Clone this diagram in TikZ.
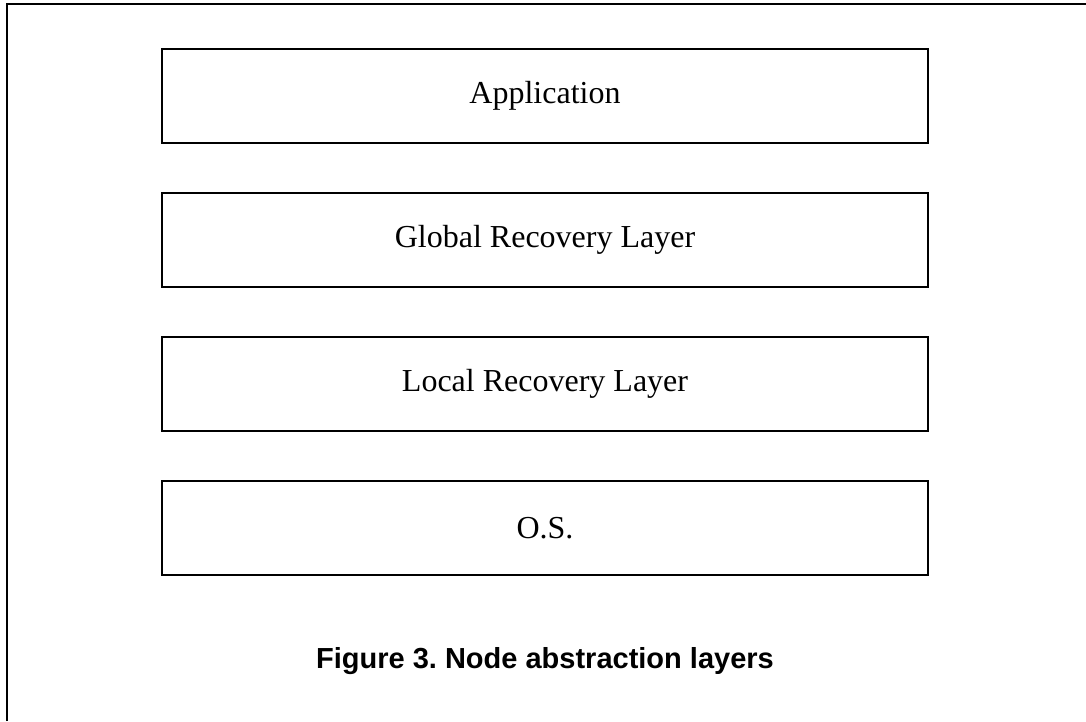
\documentclass[tikz,border=0pt]{standalone}
\usepackage{fontspec}
\setmainfont{Liberation Serif}
\newfontfamily\capfont{Liberation Sans}
\frenchspacing
\begin{document}
\begin{tikzpicture}[x=1pt,y=-1pt,
  layerbox/.style={draw, line width=2.2pt, minimum width=766pt, minimum height=94pt, inner sep=0pt, font=\fontsize{32}{38}\selectfont},
  frameline/.style={line width=2.2pt, line join=miter},
  captext/.style={anchor=base, inner sep=0pt, font=\capfont\bfseries\fontsize{29}{34}\selectfont}]
\useasboundingbox (0,0) rectangle (1086,721);
\coordinate (fb) at (7,721);
\coordinate (fc) at (7,4);
\coordinate (fr) at (1086,4);
\draw[frameline] (fb) -- (fc) -- (fr);
\node[layerbox] (app) at (545,96) {Application};
\node[layerbox] (grl) at (545,240) {Global Recovery Layer};
\node[layerbox] (lrl) at (545,384) {Local Recovery Layer};
\node[layerbox] (os) at (545,528) {O.S.};
\node[captext] (cap) at (545,668) {Figure 3. Node abstraction layers};
\end{tikzpicture}
\end{document}
